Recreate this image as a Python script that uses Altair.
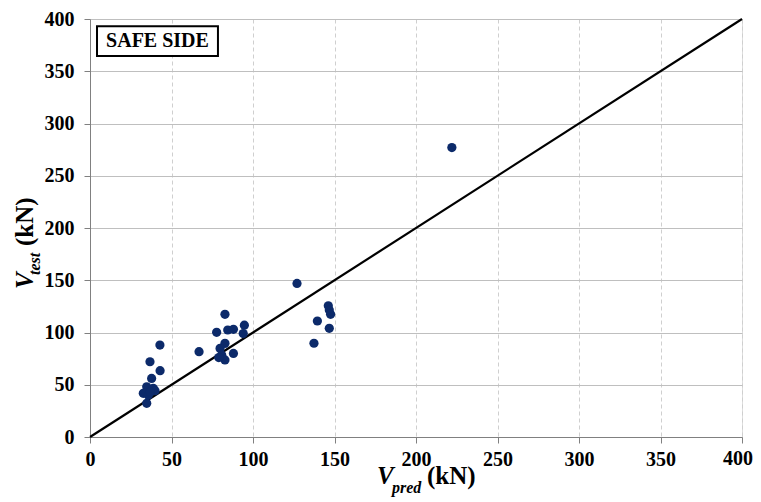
import altair as alt
import pandas as pd

# Data
v_pred = [222, 127, 146.2, 146.8, 147.6, 139.5, 146.8, 137.4,
          82.8, 77.7, 84.5, 88.0, 94.7, 94.0, 82.8, 66.9, 79.8, 80.8, 88.0, 82.8, 79.0,
          42.9, 36.8, 43.0, 37.8, 34.8, 38.8, 32.7, 39.9, 34.8, 35.8, 37.0]
v_test = [277, 147, 125.6, 121.5, 117.4, 111.0, 104.0, 89.7,
          117.4, 100.2, 102.4, 103.0, 107.0, 99.0, 89.6, 81.6, 84.8, 78.5, 80.0, 73.7, 76.0,
          88.0, 72.0, 63.5, 56.0, 48.0, 46.6, 41.8, 44.3, 32.2, 40.0, 43.0]
line_x = [0, 400]
line_y = [0, 400]
ticks = [0, 50, 100, 150, 200, 250, 300, 350, 400]

FONT = "Liberation Serif"
W, H = 652, 418

pts = pd.DataFrame({"x": v_pred, "y": v_test})
ln = pd.DataFrame({"x": line_x, "y": line_y})

xs = alt.Scale(domain=[0, 400], nice=False)
ys = alt.Scale(domain=[0, 400], nice=False)

xaxis = alt.Axis(values=ticks, title=None, grid=True, gridDash=[4, 3], gridColor="#cfcfcf",
                 domainColor="#808080", tickColor="#808080", tickSize=6, labelFlush=False,
                 labelExpr="datum.value === 400 ? '' : datum.label",
                 labelFont=FONT, labelFontSize=20, labelFontWeight="bold", labelColor="black",
                 labelPadding=6)
yaxis = alt.Axis(values=ticks, title=None, grid=True, gridColor="#bfbfbf",
                 domainColor="#808080", tickColor="#808080", tickSize=6, labelFlush=False,
                 labelFont=FONT, labelFontSize=20, labelFontWeight="bold", labelColor="black",
                 labelPadding=10)

base_line = alt.Chart(ln).mark_line(color="black", strokeWidth=2.2).encode(
    x=alt.X("x:Q", scale=xs, axis=xaxis),
    y=alt.Y("y:Q", scale=ys, axis=yaxis),
)

points = alt.Chart(pts).mark_circle(size=85, color="#0c2a6a", opacity=1).encode(
    x=alt.X("x:Q", scale=xs),
    y=alt.Y("y:Q", scale=ys),
)

# last x tick label, nudged to stay inside the page
last_lbl = alt.Chart(pd.DataFrame({"x": [ticks[-1]], "t": [str(ticks[-1])]})).mark_text(
    font=FONT, fontSize=20, fontWeight="bold", color="black", align="right", baseline="top", dx=11
).encode(x=alt.X("x:Q", scale=xs), y=alt.value(H + 12), text="t:N")

# Annotation box
box_df = pd.DataFrame({"x": [4.3], "x2": [78.5], "y": [393.0], "y2": [364.6]})
box = alt.Chart(box_df).mark_rect(fill="white", stroke="black", strokeWidth=2).encode(
    x=alt.X("x:Q", scale=xs), x2="x2:Q", y=alt.Y("y:Q", scale=ys), y2="y2:Q"
)
box_txt = alt.Chart(pd.DataFrame({"x": [41.4], "y": [379.0], "t": ["SAFE SIDE"]})).mark_text(
    font=FONT, fontSize=20, fontWeight="bold", color="black", align="center", baseline="middle"
).encode(x=alt.X("x:Q", scale=xs), y=alt.Y("y:Q", scale=ys), text="t:N")

# Axis titles composed with sub-scripts
def txt(t, x, y, size, italic=False, angle=0):
    return alt.Chart(pd.DataFrame({"t": [t]})).mark_text(
        font=FONT, fontSize=size, fontWeight="bold", fontStyle="italic" if italic else "normal",
        color="black", align="left", baseline="alphabetic", angle=angle
    ).encode(text="t:N", x=alt.value(x), y=alt.value(y))

xt = [
    txt("V", 287, 465, 25, True),
    txt("pred", 302, 474, 16, True),
    txt("(kN)", 337, 465, 25),
]
yt = [
    txt("V", -57, 270, 25, True, 270),
    txt("test", -50, 256, 16, True, 270),
    txt("(kN)", -57, 227, 25, False, 270),
]

chart = alt.layer(base_line, points, last_lbl, box, box_txt, *xt, *yt).properties(
    width=W, height=H,
    autosize=alt.AutoSizeParams(type="none"),
    padding={"left": 82, "top": 11, "right": 11, "bottom": 63},
).configure_view(stroke="#a0a0a0", strokeWidth=1).configure(background="white")

chart.save("out.html", embed_options={"renderer": "svg", "actions": False})
